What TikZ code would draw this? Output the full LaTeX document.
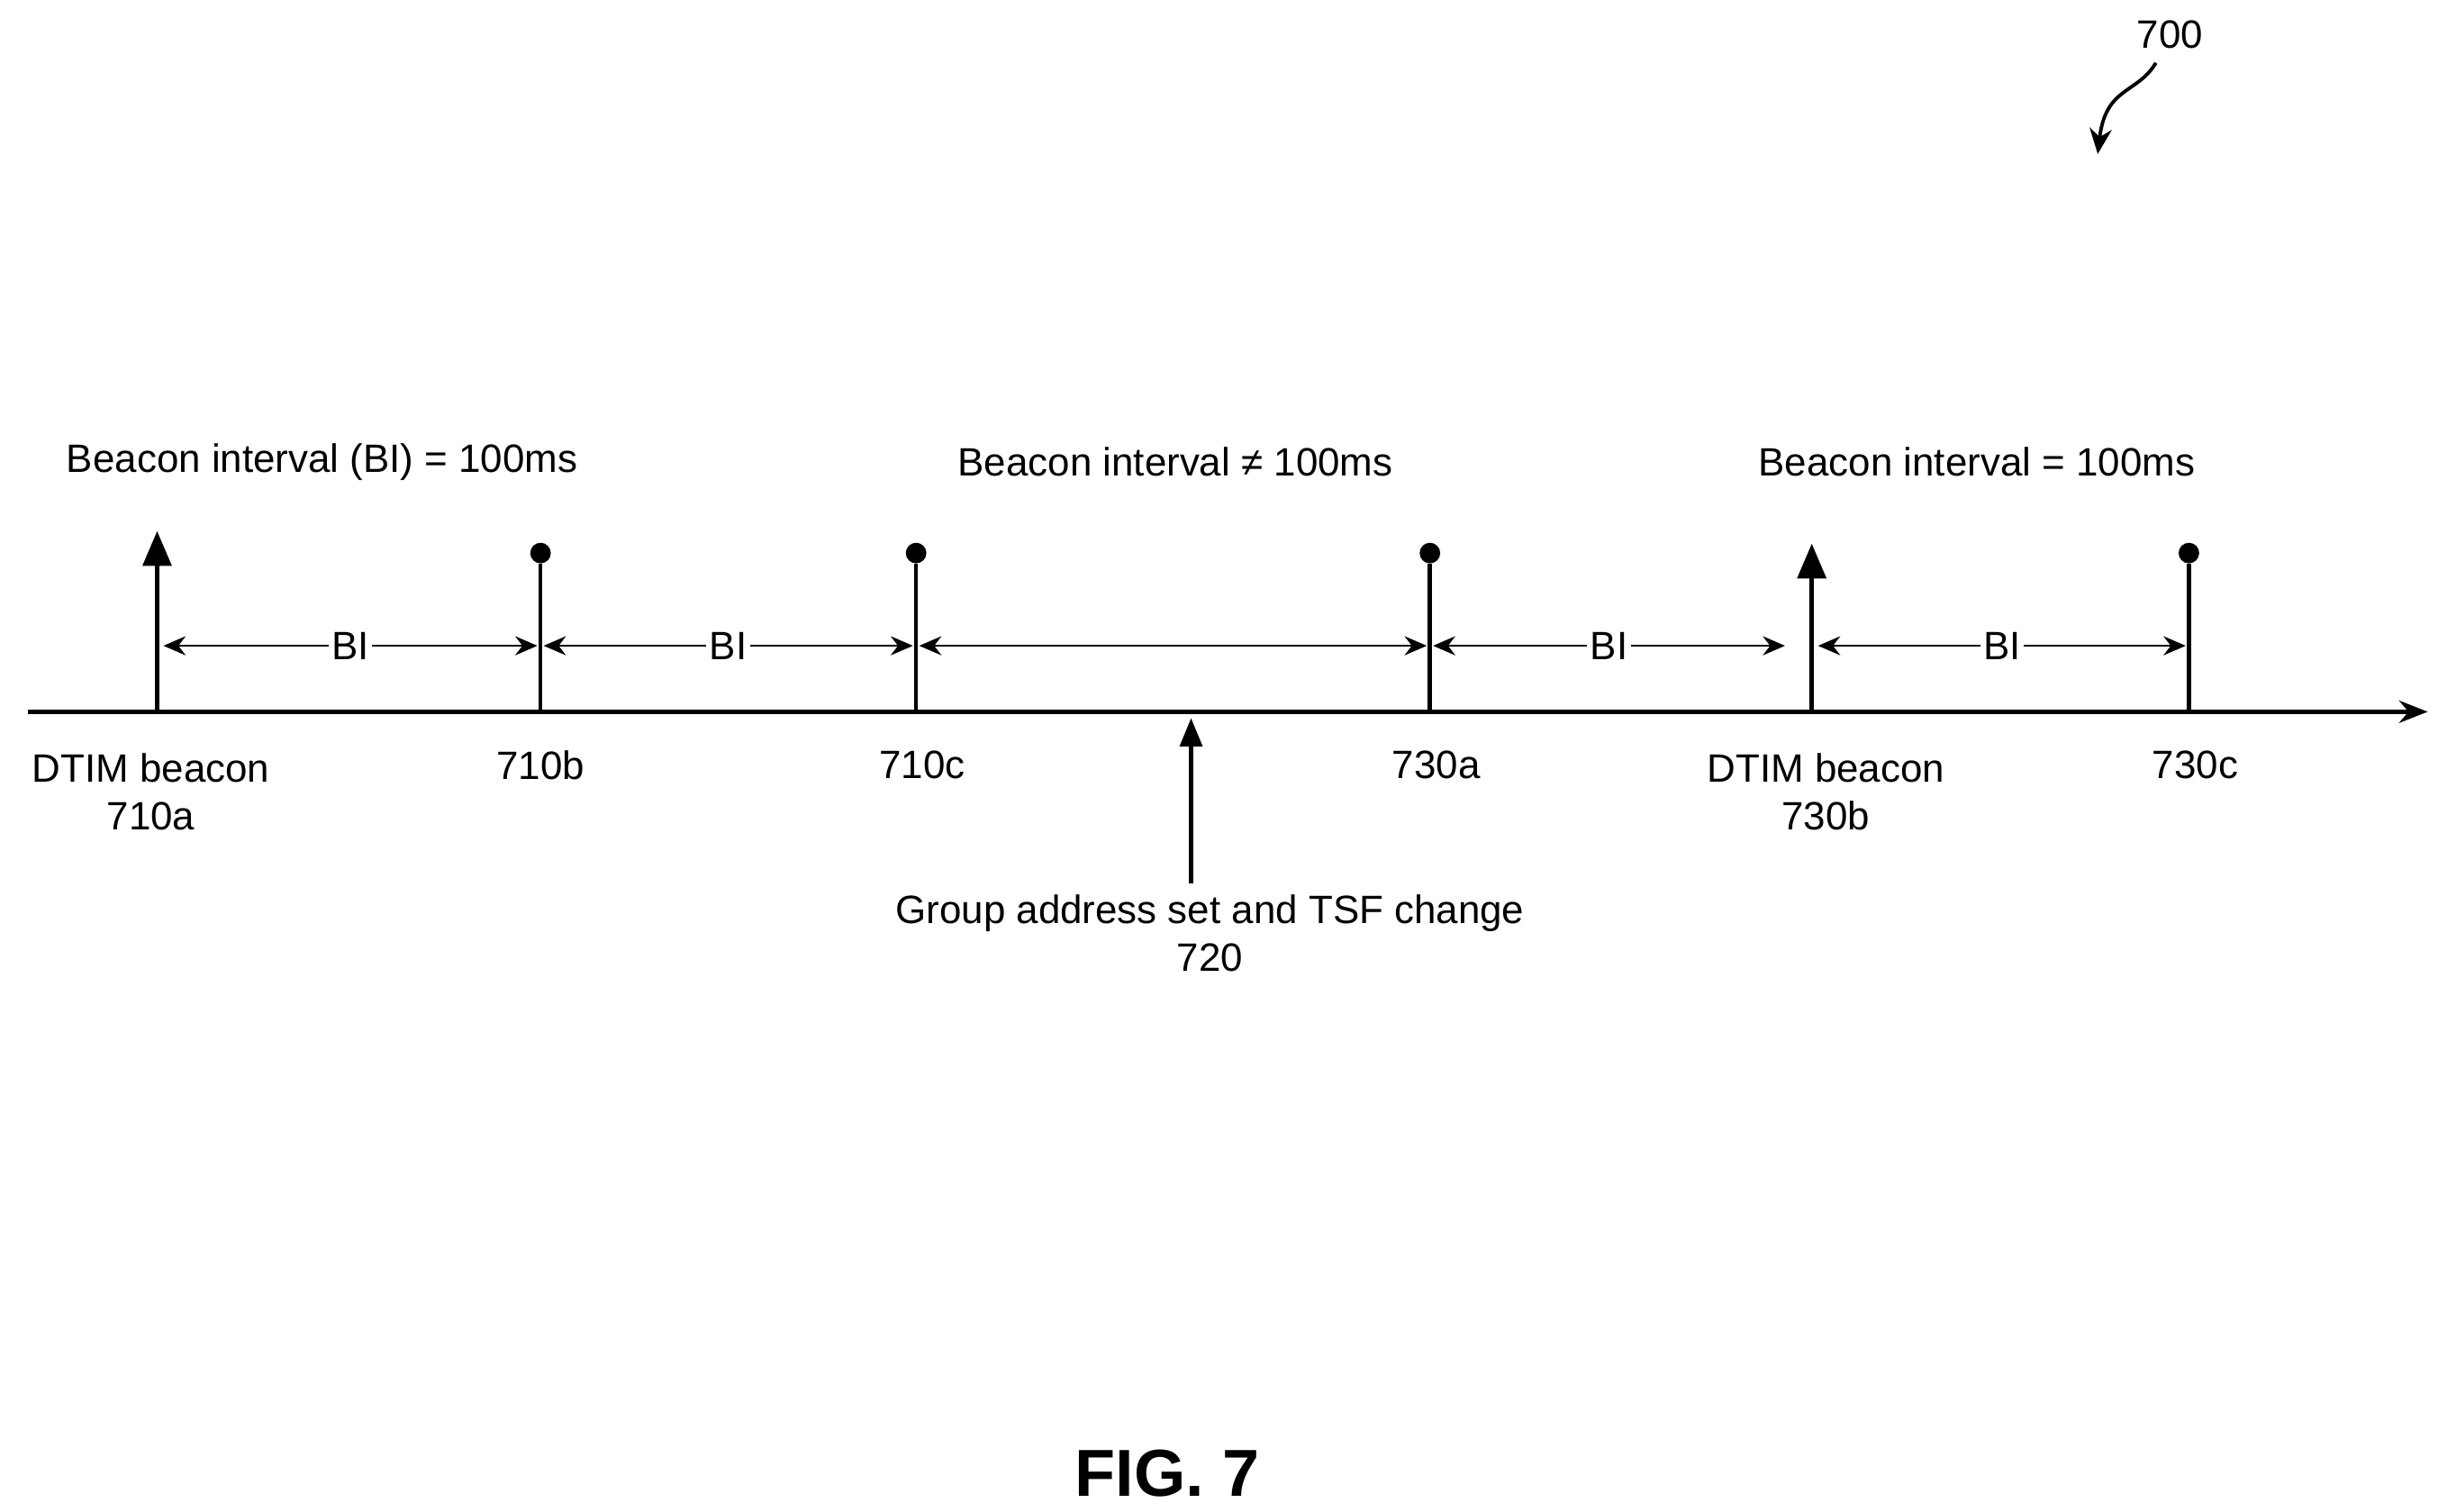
\documentclass[tikz,border=0pt]{standalone}
\usepackage{fontspec}
\setmainfont{Liberation Sans}
\usetikzlibrary{arrows.meta}
\begin{document}
\begin{tikzpicture}[x=0.01745cm,y=-0.01745cm,
  lbl/.style={font=\fontsize{12.5}{15}\selectfont,align=center,inner sep=1pt},
  ln/.style={line width=1.3pt},
  bi/.style={line width=0.8pt,{Stealth[length=7pt,width=6pt]}-{Stealth[length=7pt,width=6pt]}},
  tri/.style={line width=1.3pt,-{Triangle[length=11pt,width=9pt]}},
  dotn/.style={circle,fill=black,inner sep=0pt,minimum size=6.5pt}]
\useasboundingbox (0,0) rectangle (1563,962);
\coordinate (as) at (18,453); \coordinate (ae) at (1545,453);
\draw[line width=1.5pt,-{Stealth[length=9pt,width=7pt]}] (as) -- (ae);
% ticks
\coordinate (a) at (100,453); \coordinate (at) at (100,338);
\draw[tri] (a) -- (at);
\coordinate (d) at (1153,453); \coordinate (dt) at (1153,346);
\draw[tri] (d) -- (dt);
\foreach \n/\x in {b/344,c/583,e/910,f/1393}{
  \coordinate (\n) at (\x,453);
  \node[dotn] (\n dot) at (\x,352) {};
  \draw[ln] (\n) -- (\n dot);
}
% BI arrows
\coordinate (p1) at (104,411); \coordinate (p2) at (342,411);
\coordinate (p3) at (346,411); \coordinate (p4) at (581,411);
\coordinate (p5) at (585,411); \coordinate (p6) at (908,411);
\coordinate (p7) at (912,411); \coordinate (p8) at (1136,411);
\coordinate (p9) at (1157,411); \coordinate (p10) at (1391,411);
\draw[bi] (p1) -- node[fill=white,lbl]{BI} (p2);
\draw[bi] (p3) -- node[fill=white,lbl]{BI} (p4);
\draw[bi] (p5) -- (p6);
\draw[bi] (p7) -- node[fill=white,lbl]{BI} (p8);
\draw[bi] (p9) -- node[fill=white,lbl]{BI} (p10);
% titles
\node[lbl] (t1) at (205,294) {Beacon interval (BI) = 100ms};
\node[lbl] (t2) at (748,294) {Beacon interval ≠ 100ms};
\node[lbl] (t3) at (1258,294) {Beacon interval = 100ms};
% labels
\node[lbl] (la) at (96,504) {DTIM beacon\\710a};
\node[lbl] (lb) at (344,487) {710b};
\node[lbl] (lc) at (587,487) {710c};
\node[lbl] (le) at (914,487) {730a};
\node[lbl] (ld) at (1162,504) {DTIM beacon\\730b};
\node[lbl] (lf) at (1397,487) {730c};
\node[lbl] (g) at (770,594) {Group address set and TSF change\\720};
\coordinate (gs) at (758,562); \coordinate (ge) at (758,457);
\draw[line width=1.3pt,-{Triangle[length=9pt,width=7pt]}] (gs) -- (ge);
% 700
\node[lbl] (n700) at (1381,22) {700};
\coordinate (c1) at (1372,40); \coordinate (c2) at (1335,98);
\draw[line width=1.1pt,-{Stealth[length=8pt,width=7pt]}] (c1) .. controls (1360,60) and (1340,55) .. (c2);
\node[font=\bfseries\fontsize{21}{24}\selectfont] (fig) at (743,938) {FIG. 7};
\end{tikzpicture}
\end{document}
